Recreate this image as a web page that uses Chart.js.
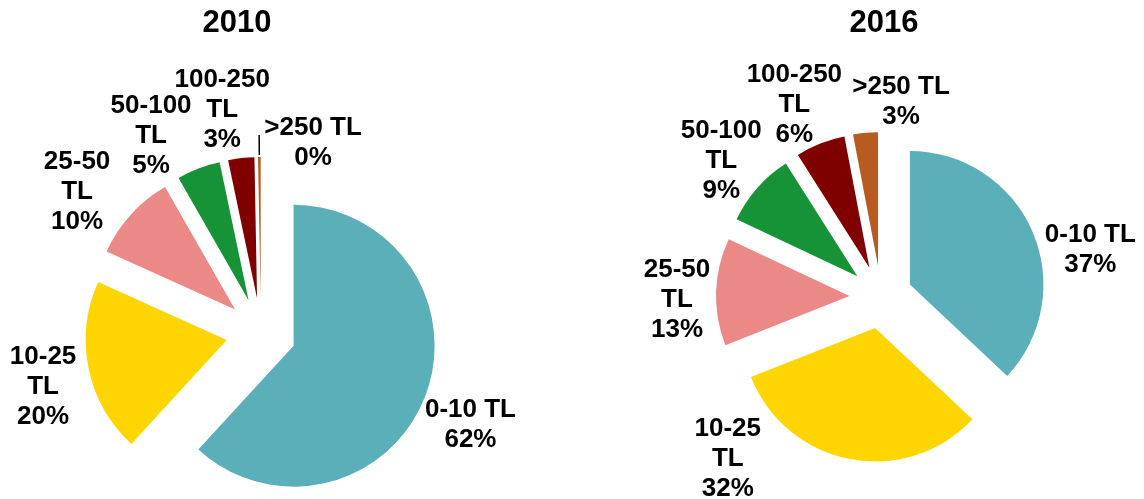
<!DOCTYPE html>
<html>
<head>
<meta charset="utf-8">
<script src="https://cdn.jsdelivr.net/npm/chart.js@4/dist/chart.umd.min.js"></script>
<style>
  html, body { margin: 0; padding: 0; background: #fff; }
  #wrap { position: relative; width: 1144px; height: 499px; overflow: hidden; }
  canvas { position: absolute; left: 0; top: 0; }
</style>
</head>
<body>
<div id="wrap">
  <canvas id="pie2010" width="1144" height="499"></canvas>
  <canvas id="pie2016" width="1144" height="499"></canvas>
</div>
<script>
// data
const categories = ['0-10 TL', '10-25 TL', '25-50 TL', '50-100 TL', '100-250 TL', '>250 TL'];
const values2010 = [62, 20, 10, 5, 3, 0.3];
const values2016 = [37, 32, 13, 9, 6, 3];
const sliceColors = ['#5BAFB9', '#FFD500', '#EB8986', '#179337', '#800000', '#B85B20'];

// label placement: [angle shift from slice middle (deg), distance from pie centre (px)]
const place2010 = [[2.0, 228], [-1.8, 224], [-4.4, 233], [-8.0, 228], [-3.3, 229], [15.7, 199]];
const place2016 = [[10.2, 215], [33.1, 221], [-2.1, 204], [-0.6, 211], [-2.4, 213], [11.2, 198]];

const labelFont = 'bold 26px "Liberation Sans", Arial, sans-serif';
const titleFont = 'bold 31px "Liberation Sans", Arial, sans-serif';

function wrapLabel(ctx, text, maxW) {
    if (ctx.measureText(text).width <= maxW) return [text];
    return text.split(' ');
}

const pieDecor = {
    id: 'pieDecor',
    afterDatasetUpdate(chart, args, opts) {
        // explode every slice along its middle angle
        const d = opts.explode || 0;
        args.meta.data.forEach(arc => {
            const mid = (arc.startAngle + arc.endAngle) / 2;
            arc.x += Math.cos(mid) * d;
            arc.y += Math.sin(mid) * d;
        });
    },
    afterDatasetsDraw(chart, args, opts) {
        const ctx = chart.ctx;
        const area = chart.chartArea;
        const cx = (area.left + area.right) / 2;
        const cy = (area.top + area.bottom) / 2;
        const meta = chart.getDatasetMeta(0);
        const vals = chart.data.datasets[0].data;
        const total = vals.reduce((a, b) => a + b, 0);
        ctx.save();
        ctx.fillStyle = '#000';
        ctx.strokeStyle = '#000';
        ctx.textAlign = 'center';
        ctx.textBaseline = 'alphabetic';

        // title
        ctx.font = titleFont;
        ctx.fillText(opts.title, cx + opts.titleDx, opts.titleY);

        ctx.font = labelFont;
        meta.data.forEach((arc, i) => {
            const mid = (arc.startAngle + arc.endAngle) / 2;
            const p = opts.place[i];
            const a = mid + p[0] * Math.PI / 180;
            const lx = cx + Math.cos(a) * p[1];
            const ly = cy + Math.sin(a) * p[1];
            const lines = wrapLabel(ctx, chart.data.labels[i], 100);
            lines.push(Math.round(vals[i] / total * 100) + '%');
            const lh = 30;
            lines.forEach((t, k) => {
                const yc = ly + (k - (lines.length - 1) / 2) * lh;
                ctx.fillText(t, lx, yc + 9.3);
            });
            if ((opts.leaders || []).includes(i)) {
                const r0 = arc.outerRadius + opts.explode + 2;
                ctx.lineWidth = 1.5;
                ctx.beginPath();
                ctx.moveTo(cx + Math.cos(mid) * r0, cy + Math.sin(mid) * r0);
                ctx.lineTo(cx + Math.cos(mid) * (r0 + 20), cy + Math.sin(mid) * (r0 + 20));
                ctx.stroke();
            }
        });
        ctx.restore();
    }
};

function makePie(id, values, radius, padding, decor) {
    return new Chart(document.getElementById(id), {
        type: 'pie',
        data: {
            labels: categories,
            datasets: [{
                data: values,
                backgroundColor: sliceColors,
                borderWidth: 0,
                clip: false
            }]
        },
        options: {
            responsive: false,
            animation: false,
            events: [],
            radius: radius,
            layout: { padding: padding },
            plugins: {
                legend: { display: false },
                tooltip: { enabled: false },
                pieDecor: decor
            }
        },
        plugins: [pieDecor]
    });
}

makePie('pie2010', values2010, 141,
    { left: 0, right: 622, top: 167, bottom: 0 },
    { title: '2010', titleDx: -24, titleY: 32, explode: 35, place: place2010, leaders: [5] });

makePie('pie2016', values2016, 133.5,
    { left: 618, right: 0, top: 95, bottom: 0 },
    { title: '2016', titleDx: 3, titleY: 32, explode: 31.5, place: place2016 });
</script>
</body>
</html>
